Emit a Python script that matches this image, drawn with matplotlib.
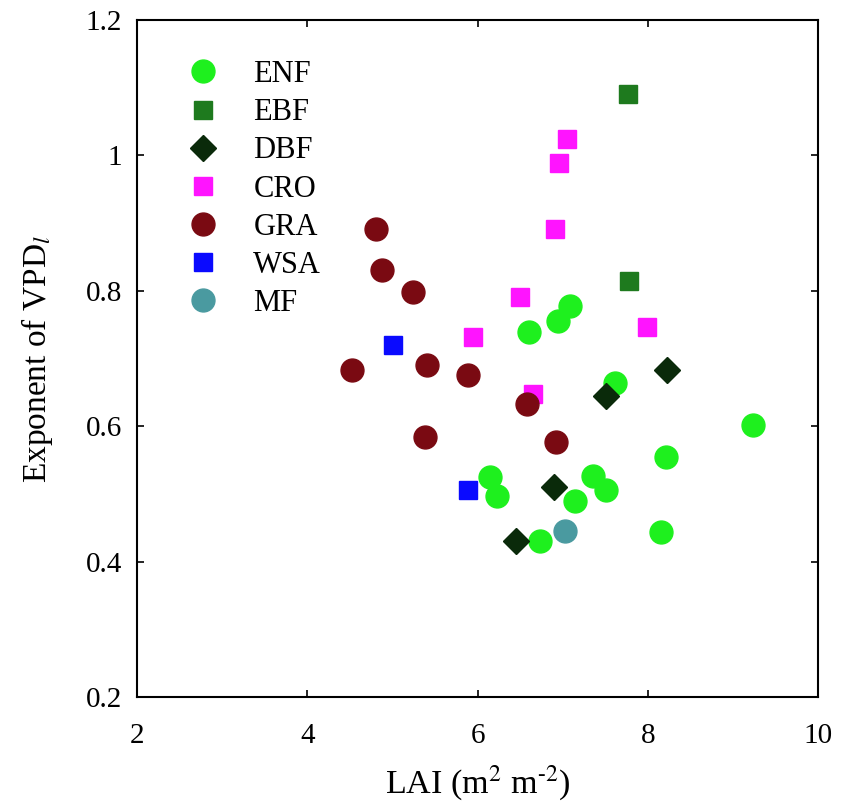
import matplotlib
matplotlib.use("Agg")
import matplotlib.pyplot as plt

plt.rcParams['font.family'] = ['Liberation Serif', 'DejaVu Serif']
plt.rcParams['mathtext.fontset'] = 'stix'

# Data (LAI, exponent)
enf_x = [6.74, 6.61, 6.95, 7.09, 7.62, 9.24, 8.22, 6.15, 6.23, 7.14, 7.36, 7.51, 8.15]
enf_y = [0.430, 0.739, 0.755, 0.778, 0.664, 0.602, 0.554, 0.525, 0.497, 0.490, 0.526, 0.506, 0.444]
ebf_x = [7.77, 7.78]
ebf_y = [1.091, 0.814]
dbf_x = [7.51, 8.23, 6.90, 6.45]
dbf_y = [0.645, 0.683, 0.510, 0.430]
cro_x = [7.05, 6.96, 6.91, 6.50, 7.99, 5.95, 6.65]
cro_y = [1.024, 0.989, 0.891, 0.791, 0.747, 0.732, 0.648]
gra_x = [4.81, 4.88, 5.24, 4.53, 5.41, 5.89, 5.38, 6.58, 6.92]
gra_y = [0.891, 0.831, 0.798, 0.683, 0.690, 0.676, 0.584, 0.633, 0.577]
wsa_x = [5.01, 5.89]
wsa_y = [0.720, 0.506]
mf_x = [7.03]
mf_y = [0.445]

fig = plt.figure(figsize=(8.48, 8.02), dpi=100)
ax = fig.add_axes([0.1616, 0.1309, 0.8030, 0.8441])

ax.plot(enf_x, enf_y, 'o', color='#1ef01e', ms=16.5, mec='#1ef01e', label='ENF', linestyle='none')
ax.plot(ebf_x, ebf_y, 's', color='#1e7a1e', ms=12.5, mec='#1e7a1e', label='EBF', linestyle='none')
ax.plot(dbf_x, dbf_y, 'D', color='#0a2a0a', ms=13, mec='#0a2a0a', label='DBF', linestyle='none')
ax.plot(cro_x, cro_y, 's', color='#ff14ff', ms=12.5, mec='#ff14ff', label='CRO', linestyle='none')
ax.plot(gra_x, gra_y, 'o', color='#7a0a12', ms=16.5, mec='#7a0a12', label='GRA', linestyle='none')
ax.plot(wsa_x, wsa_y, 's', color='#0a0aff', ms=12.5, mec='#0a0aff', label='WSA', linestyle='none')
ax.plot(mf_x, mf_y, 'o', color='#4a9aa0', ms=16.5, mec='#4a9aa0', label='MF', linestyle='none')

ax.set_xlim(2, 10)
ax.set_ylim(0.2, 1.2)
ax.set_xticks([2, 4, 6, 8, 10])
ax.set_yticks([0.2, 0.4, 0.6, 0.8, 1.0, 1.2])
ax.set_xticklabels(['2', '4', '6', '8', '10'])
ax.set_yticklabels(['0.2', '0.4', '0.6', '0.8', '1', '1.2'])
ax.tick_params(direction='in', top=True, right=True, length=5, width=1.2, labelsize=21)
ax.tick_params(axis='x', pad=19)
ax.tick_params(axis='y', pad=11)
for s in ax.spines.values():
    s.set_linewidth(1.5)

ax.set_xlabel('LAI (m$^{2}$ m$^{\\text{-}2}$)', fontsize=24.5, labelpad=10)
ax.set_ylabel('Exponent of VPD$_{\\mathit{l}}$', fontsize=24, labelpad=22)

leg = ax.legend(loc='upper left', bbox_to_anchor=(0.025, 0.968), frameon=False,
                fontsize=22, labelspacing=0.3, handletextpad=0.65, borderaxespad=0.2,
                numpoints=1)

fig.savefig('out.png', dpi=100)
